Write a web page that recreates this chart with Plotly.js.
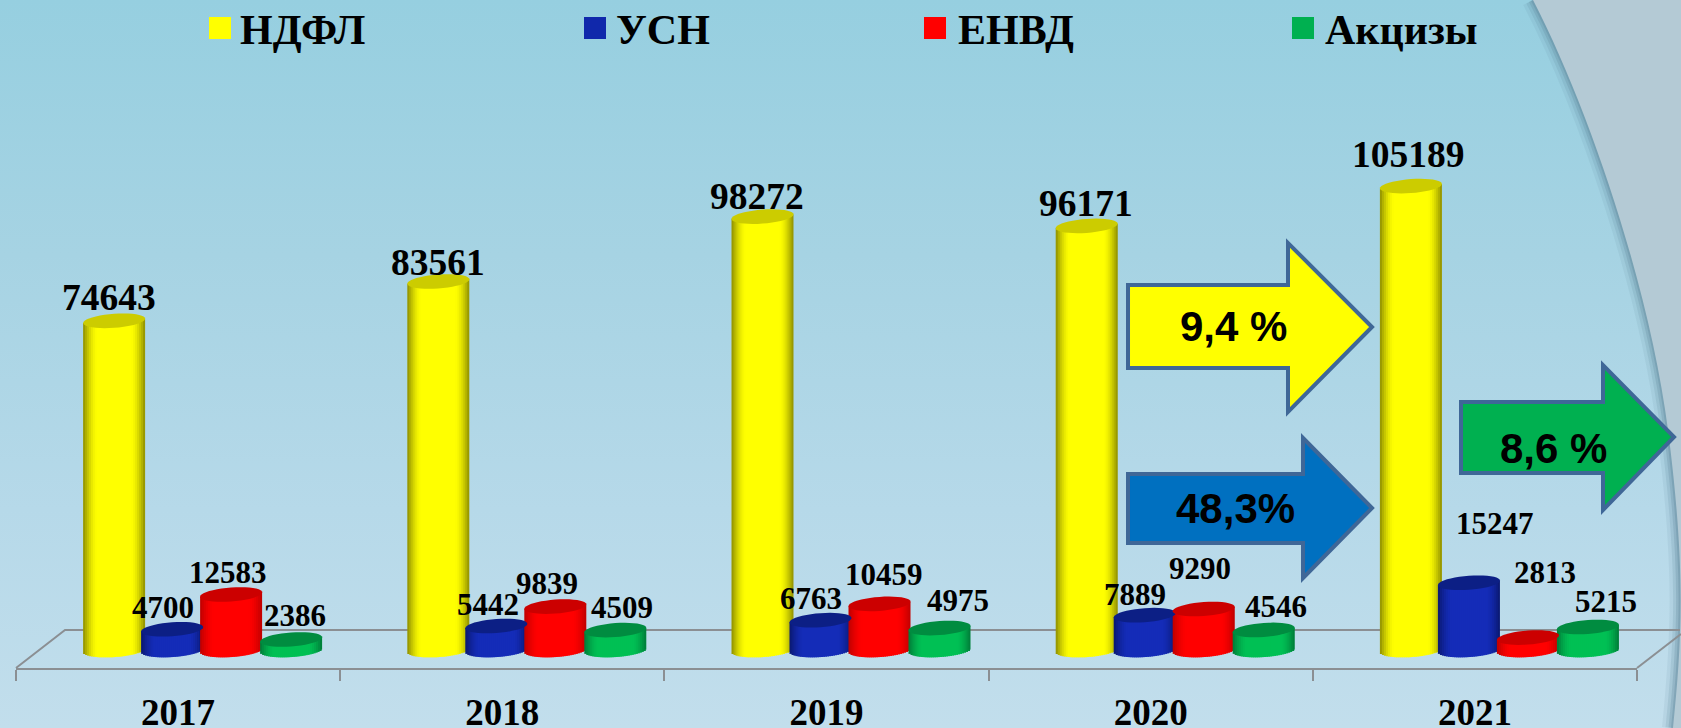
<!DOCTYPE html>
<html><head><meta charset="utf-8">
<script src="https://cdn.plot.ly/plotly-3.0.1.min.js"></script>
<style>html,body{margin:0;padding:0;width:1681px;height:728px;overflow:hidden;background:linear-gradient(180deg,#96cfe0 0%,#a6d3e3 35%,#b6d9e9 70%,#c2deec 100%)}#c{width:1681px;height:728px}</style>
</head><body><div id="c"></div>
<script>
// ---- data ----
const years = ['2017','2018','2019','2020','2021'];
const ndfl   = [74643, 83561, 98272, 96171, 105189];
const usn    = [4700, 5442, 6763, 7889, 15247];
const envd   = [12583, 9839, 10459, 9290, 2813];
const akcizy = [2386, 4509, 4975, 4546, 5215];
const seriesNames = ['НДФЛ','УСН','ЕНВД','Акцизы'];
const seriesValues = [ndfl, usn, envd, akcizy];

// ---- style and layout ----
const W=1681,H=728,L=16,R=1637,BOT=668,ZERO=650,PPU=0.00441;
const slot=(R-L)/5;
const offsets=[-64,-6,53,113];            // bar centre relative to category centre, px
const mainColors=[[255,255,0],[20,44,184],[255,0,0],[0,192,84]];
const edgeColors=[[140,140,0],[10,24,110],[190,0,0],[0,122,56]];
const capColors=['#cccc00','#0c1f85','#cc0000','#008c40'];
const legendColors=['#ffff00','#1028ab','#ff0000','#00b050'];
const legendSquareX=[209,584,924,1292];
const legendTextX=[240,616,958,1325];
const RX=31,RY=7,TILT=2.2,STRIP=2;
const labelPx=[
 [[109,297],[438,262],[757,196],[1086,204],[1408,155]],
 [[163,607],[488,604],[811,598],[1135,594],[1495,523]],
 [[228,572],[547,583],[884,574],[1200,568],[1545,572]],
 [[295,615],[622,607],[958,600],[1276,606],[1606,601]]];
const labelSize=[37.5,31,31,31];
const arrows=[
 {c:'#ffff00',t:'9,4 %',l:1128,bt:285,bb:368,n:1288,ht:243,hb:412,tip:1372,ty:327,tx:1233,tyc:326},
 {c:'#0070c0',t:'48,3%',l:1128,bt:474,bb:543,n:1303,ht:438,hb:578,tip:1372,ty:508,tx:1235,tyc:508},
 {c:'#00b050',t:'8,6 %',l:1461,bt:402,bb:473,n:1603,ht:365,hb:510,tip:1674,ty:437,tx:1553,tyc:448}];

const px=x=>(x-L)/(R-L), py=y=>(BOT-y)/BOT;
const P=(pts,close=true)=>'M'+pts.map(p=>px(p[0]).toFixed(5)+','+py(p[1]).toFixed(5)).join('L')+(close?'Z':'');
const mix=(a,b,t)=>'rgb('+a.map((v,i)=>Math.round(v+(b[i]-v)*t)).join(',')+')';

const traces=[];
seriesValues.forEach((vals,s)=>{
  const x=[],y=[],base=[],width=[],offset=[],color=[];
  vals.forEach((v,i)=>{
    for(let xo=-RX+STRIP/2;xo<RX;xo+=STRIP){
      const t=xo/RX, up=t*TILT;                 // right side of the cylinder sits higher
      const low=-RY*Math.sqrt(1-t*t)+up;
      const b=low/PPU;
      const last=xo+STRIP>=RX;
      x.push(years[i]); base.push(b); y.push(v+up/PPU-b);
      width.push((STRIP+(last?0:1.5))/slot); offset.push((offsets[s]+xo-STRIP/2)/slot);
      const a=Math.abs(t), k=a<0.55?0:Math.pow((a-0.55)/0.45,1.6);
      color.push(mix(mainColors[s],edgeColors[s],k));
    }
  });
  traces.push({type:'bar',name:seriesNames[s],x,y,base,width,offset,
    marker:{color,line:{width:0}},hoverinfo:'skip',showlegend:false});
});

const shapes=[];
// curved corner panel with soft shadow
const curve='M'+[[1533,0]].map(p=>px(p[0])+','+py(p[1]))+
 'C'+[[1590,110],[1650,290],[1668,430]].map(p=>px(p[0])+','+py(p[1])).join(' ')+
 'S'+[[1682,640],[1673,728]].map(p=>px(p[0])+','+py(p[1])).join(' ');
[[22,'rgba(90,130,150,0.10)'],[15,'rgba(90,130,150,0.16)'],[9,'rgba(90,130,150,0.24)'],[4,'rgba(90,130,150,0.30)']].forEach(a=>{
  shapes.push({type:'path',layer:'below',xref:'paper',yref:'paper',path:curve,line:{color:a[1],width:a[0]},fillcolor:'rgba(0,0,0,0)'});
});
shapes.push({type:'path',layer:'below',xref:'paper',yref:'paper',path:curve+'L'+px(1700)+','+py(728)+'L'+px(1700)+','+py(0)+'Z',fillcolor:'#b4cad5',line:{width:0}});
// floor of the 3D plot
[[[16,668],[65,630],[1680,630]],[[1637,668],[1681,634]]].forEach(pts=>{
  shapes.push({type:'path',layer:'below',xref:'paper',yref:'paper',path:P(pts,false),line:{color:'#8b8f93',width:2},fillcolor:'rgba(0,0,0,0)'});
});
// cylinder caps computed from values
seriesValues.forEach((vals,s)=>{
  vals.forEach((v,i)=>{
    const pts=[];
    for(let k=0;k<40;k++){
      const a=k/40*2*Math.PI, xo=RX*Math.cos(a), yo=RY*Math.sin(a)+TILT*Math.cos(a);
      pts.push(((i+(offsets[s]+xo)/slot)).toFixed(4)+','+(v+yo/PPU).toFixed(1));
    }
    shapes.push({type:'path',layer:'above',xref:'x',yref:'y',path:'M'+pts.join('L')+'Z',fillcolor:capColors[s],line:{width:0}});
  });
});
// legend swatches
legendColors.forEach((c,s)=>{
  shapes.push({type:'rect',xref:'paper',yref:'paper',x0:px(legendSquareX[s]),x1:px(legendSquareX[s]+22),y0:py(17),y1:py(39),fillcolor:c,line:{width:0}});
});
// arrows
arrows.forEach(a=>{
  shapes.push({type:'path',xref:'paper',yref:'paper',fillcolor:a.c,line:{color:'#3f6797',width:4},
    path:P([[a.l,a.bt],[a.n,a.bt],[a.n,a.ht],[a.tip,a.ty],[a.n,a.hb],[a.n,a.bb],[a.l,a.bb]])});
});

const serif='"Liberation Serif","Times New Roman",serif', sans='"Liberation Sans",Arial,sans-serif';
const annotations=[];
seriesValues.forEach((vals,s)=>{
  vals.forEach((v,i)=>{
    annotations.push({xref:'paper',yref:'paper',x:px(labelPx[s][i][0]),y:py(labelPx[s][i][1]),text:'<b>'+v+'</b>',showarrow:false,
      xanchor:'center',yanchor:'middle',font:{family:serif,size:labelSize[s],color:'#000'}});
  });
  annotations.push({xref:'paper',yref:'paper',x:px(legendTextX[s]),y:py(30),text:'<b>'+seriesNames[s]+'</b>',showarrow:false,
    xanchor:'left',yanchor:'middle',xshift:-2,font:{family:serif,size:42,color:'#000'}});
});
arrows.forEach(a=>{
  annotations.push({xref:'paper',yref:'paper',x:px(a.tx),y:py(a.tyc),text:'<b>'+a.t+'</b>',showarrow:false,
    xanchor:'center',yanchor:'middle',font:{family:sans,size:42,color:'#000'}});
});

const layout={
  width:W,height:H,margin:{l:L,r:W-R,t:0,b:H-BOT,pad:0},autosize:false,
  paper_bgcolor:'rgba(0,0,0,0)',plot_bgcolor:'rgba(0,0,0,0)',
  barmode:'overlay',showlegend:false,
  xaxis:{type:'category',categoryorder:'array',categoryarray:years,range:[-0.5,4.5],tickson:'boundaries',
    ticks:'outside',ticklen:11,tickwidth:2,tickcolor:'#8b8f93',showline:true,linecolor:'#8b8f93',linewidth:2,
    showgrid:false,zeroline:false,fixedrange:true,ticklabelstandoff:11,
    tickfont:{family:serif,size:37,color:'#000',weight:'bold'}},
  yaxis:{range:[(ZERO-BOT)/PPU,ZERO/PPU],visible:false,fixedrange:true},
  shapes,annotations
};
Plotly.newPlot('c',traces,layout,{displayModeBar:false});
</script></body></html>
